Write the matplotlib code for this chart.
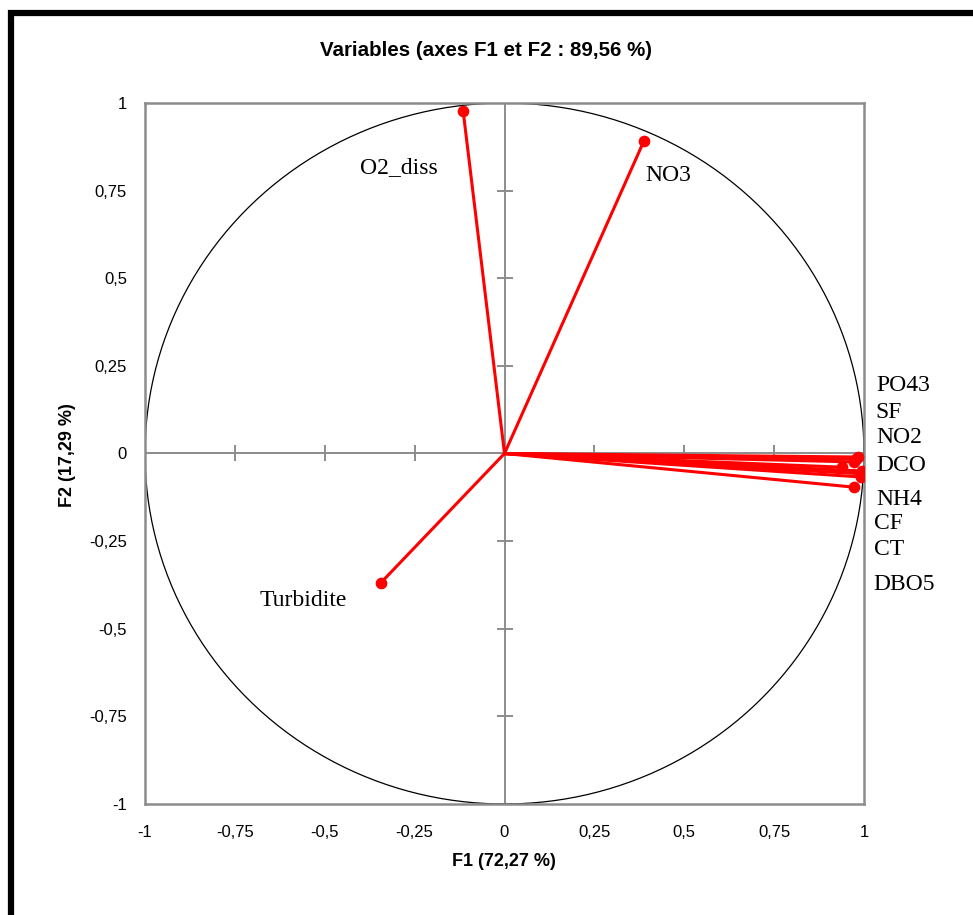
import numpy as np
import matplotlib
matplotlib.use("Agg")
import matplotlib.pyplot as plt
from matplotlib.patches import Rectangle

# Coordonnées des variables sur F1 et F2
variables = ['O2_diss', 'NO3', 'Turbidite', 'PO43', 'SF', 'NO2', 'DCO',
             'NH4', 'CF', 'CT', 'DBO5']
f1 = [-0.115, 0.388, -0.344, 0.983, 0.977, 0.972, 0.939, 0.994, 0.994, 0.992, 0.972]
f2 = [0.977, 0.892, -0.369, -0.010, -0.016, -0.024, -0.039, -0.050, -0.058, -0.067, -0.096]

# Position des étiquettes (placées pour éviter les chevauchements)
lab_x = [-0.402, 0.391, -0.68, 1.033, 1.033, 1.033, 1.033, 1.033, 1.027, 1.027, 1.025]
lab_y = [0.817, 0.792, -0.42, 0.193, 0.116, 0.047, -0.033, -0.130, -0.201, -0.275, -0.375]

ticks = np.arange(-1, 1.01, 0.25)
tick_labels = ['-1', '-0,75', '-0,5', '-0,25', '0', '0,25', '0,5', '0,75', '1']

fig = plt.figure(figsize=(9.73, 9.15), dpi=100)
ax = fig.add_axes([145/973, 1-804/915, (864-145)/973, (804-103)/915])

gris = '#8c8c8c'
rouge = '#ff0000'

# cercle des corrélations
t = np.linspace(0, 2*np.pi, 400)
ax.plot(np.cos(t), np.sin(t), color='black', linewidth=0.9, zorder=2)

# axes à zéro avec petites graduations
ax.axhline(0, color=gris, linewidth=1.4, zorder=1)
ax.axvline(0, color=gris, linewidth=1.4, zorder=1)
ax.plot(ticks, np.zeros_like(ticks), linestyle='none', marker='|', markersize=11,
        color=gris, markeredgewidth=1.4, zorder=1)
ax.plot(np.zeros_like(ticks), ticks, linestyle='none', marker='_', markersize=11,
        color=gris, markeredgewidth=1.4, zorder=1)

# vecteurs des variables
for x, y in zip(f1, f2):
    ax.plot([0, x], [0, y], color=rouge, linewidth=2.2, zorder=3)
ax.scatter(f1, f2, s=55, color=rouge, zorder=4)

for nom, x, y in zip(variables, lab_x, lab_y):
    ax.text(x, y, nom, fontsize=17, family='Liberation Serif', ha='left',
            va='center', clip_on=False)

ax.set_xlim(-1, 1)
ax.set_ylim(-1, 1)
ax.set_xticks(ticks)
ax.set_yticks(ticks)
ax.set_xticklabels(tick_labels, family='Liberation Sans', fontsize=12)
ax.set_yticklabels(tick_labels, family='Liberation Sans', fontsize=12)
ax.tick_params(axis='x', length=0, pad=15)
ax.tick_params(axis='y', length=0, pad=13)
for s in ax.spines.values():
    s.set_color(gris)
    s.set_linewidth(1.8)

fig.text(0.5, 1-50/915, 'Variables (axes F1 et F2 : 89,56 %)', ha='center', va='center',
         fontsize=14.8, fontweight='bold', family='Liberation Sans')
fig.text(504/973, 1-862/915, 'F1 (72,27 %)', ha='center', va='center',
         fontsize=13, fontweight='bold', family='Liberation Sans')
fig.text(68/973, 1-455/915, 'F2 (17,29 %)', ha='center', va='center', rotation=90,
         fontsize=13, fontweight='bold', family='Liberation Sans')

# cadre noir (coupé à droite et en bas)
haut = 1 - 13/915
fig.patches.append(Rectangle((11/973, -0.2), 1.2, haut + 0.2, transform=fig.transFigure,
                             fill=False, edgecolor='black', linewidth=4.5, zorder=0))

fig.savefig('out.png', dpi=100)
